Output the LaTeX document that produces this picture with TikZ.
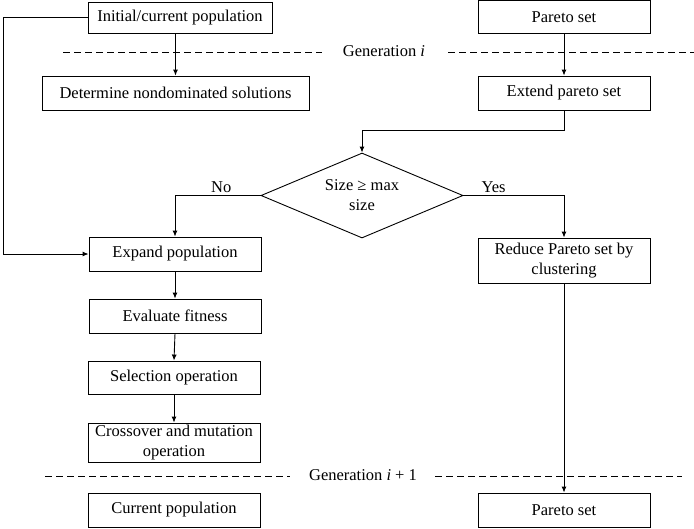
\documentclass[tikz,border=0pt]{standalone}
\usepackage{fontspec}
\setmainfont{Liberation Serif}
\usetikzlibrary{shapes.geometric,arrows.meta}
\begin{document}
\begin{tikzpicture}[x=1pt,y=-1pt,
  font=\fontsize{16.5}{20}\selectfont,
  box/.style={draw,line width=0.9pt,rectangle,minimum height=34pt,inner sep=0pt,align=center},
  arr/.style={line width=0.9pt,-{Latex[length=6pt,width=5pt]}},
  dsh/.style={line width=0.8pt,dash pattern=on 6.5pt off 4.5pt}]
\useasboundingbox (0,0) rectangle (694,528);
% boxes
\node[box,minimum width=184pt,minimum height=31pt] (init) at (180,17.5) {Initial/current population};
\node[box,minimum width=267pt] (det) at (175.5,93) {Determine nondominated solutions};
\node[box,minimum width=172pt,minimum height=33pt] (par1) at (564,17) {Pareto set};
\node[box,minimum width=172pt] (ext) at (564,93) {Extend pareto set};
\node[draw,line width=0.9pt,diamond,aspect=2.4,minimum width=202pt,minimum height=85pt,inner sep=0pt,align=center] (dia) at (362,195.5) {Size ≥ max\\size};
\node[box,minimum width=172pt] (exp) at (175,254) {Expand population};
\node[box,minimum width=172pt] (eva) at (175,316) {Evaluate fitness};
\node[box,minimum width=172pt,minimum height=33pt] (sel) at (174,377.5) {Selection operation};
\node[box,minimum width=172pt,minimum height=39pt] (cro) at (174,442.5) {Crossover and mutation\\operation};
\node[box,minimum width=172pt] (cur) at (174,510) {Current population};
\node[box,minimum width=172pt,minimum height=45pt] (red) at (564,260.5) {Reduce Pareto set by\\clustering};
\node[box,minimum width=172pt] (par2) at (564,510) {Pareto set};
% generation labels and dashed lines
\node (g1) at (384,51) {Generation \textit{i}};
\node (g2) at (363,475) {Generation \textit{i} + 1};
\draw[dsh] (63,52) -- (322,52);
\draw[dsh] (448,52) -- (694,52);
\draw[dsh] (45,476) -- (290,476);
\draw[dsh] (435,476) -- (682,476);
% connectors
\coordinate (lc) at (3,17.5);
\draw[arr] (init.west) -- (lc) |- (exp.west);
\draw[arr] (det.north |- init.south) -- (det.north);
\draw[arr] (par1.south) -- (ext.north);
\draw[arr] (ext.south) -- ++(0,20) -| (dia.north);
\draw[arr] (dia.west) -| (exp.north) node[pos=0.23,above,inner sep=2pt] {No};
\draw[arr] (dia.east) -| (red.north) node[pos=0.15,above,inner sep=2pt] {Yes};
\draw[arr] (exp.south) -- (eva.north);
\draw[arr] (eva.south) -- (sel.north);
\draw[arr] (sel.south) -- (cro.north);
\draw[arr] (red.south) -- (par2.north);
\end{tikzpicture}
\end{document}
